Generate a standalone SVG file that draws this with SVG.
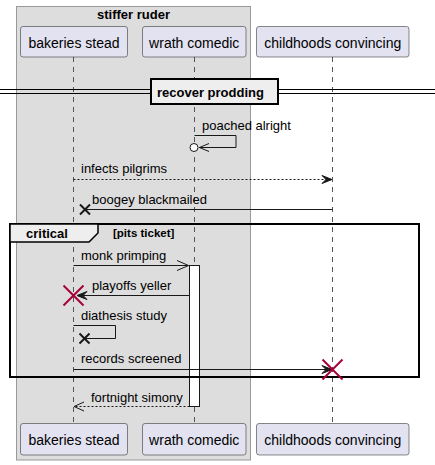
<svg xmlns="http://www.w3.org/2000/svg" width="435" height="465" viewBox="0 0 435 465">
<style>
text{font-family:"Liberation Sans",Arial,sans-serif;fill:#000}
.pt{font-size:14px;text-anchor:middle}
.ml{font-size:13px}
.b{font-weight:bold}
.prect{fill:#E2E2F0;stroke:#181818;stroke-width:0.5}
.life{stroke:#555;stroke-width:1;stroke-dasharray:5,5;fill:none}
.msg{stroke:#181818;stroke-width:1;fill:none}
.dash{stroke-dasharray:2,2}
.ah{fill:#181818;stroke:#181818;stroke-width:1}
.oh{fill:none;stroke:#181818;stroke-width:1}
.x{stroke:#181818;stroke-width:2}
.rx{stroke:#A80036;stroke-width:2}
</style>
<rect id="box" x="16.5" y="6.5" width="234" height="453.5" fill="#DDDDDD" stroke="#999" stroke-width="1"/>
<text class="ml b" x="133.5" y="19" text-anchor="middle">stiffer ruder</text>
<g id="lifelines">
<line class="life" x1="73.5" y1="57" x2="73.5" y2="423"/>
<line class="life" x1="194.5" y1="57" x2="194.5" y2="423"/>
<line class="life" x1="332.5" y1="57" x2="332.5" y2="423"/>
</g>
<g id="p_bakeries">
<rect class="prect" x="20.5" y="26.5" width="107" height="30.5" rx="2.5"/>
<text class="pt" x="74" y="48">bakeries stead</text>
<rect class="prect" x="20.5" y="423.5" width="107" height="31.5" rx="2.5"/>
<text class="pt" x="74" y="445">bakeries stead</text>
</g>
<g id="p_wrath">
<rect class="prect" x="142.5" y="26.5" width="103.5" height="30.5" rx="2.5"/>
<text class="pt" x="194.25" y="48">wrath comedic</text>
<rect class="prect" x="142.5" y="423.5" width="103.5" height="31.5" rx="2.5"/>
<text class="pt" x="194.25" y="445">wrath comedic</text>
</g>
<g id="p_childhoods">
<rect class="prect" x="256.5" y="26.5" width="152.5" height="30.5" rx="2.5"/>
<text class="pt" x="332.75" y="48">childhoods convincing</text>
<rect class="prect" x="256.5" y="423.5" width="152.5" height="31.5" rx="2.5"/>
<text class="pt" x="332.75" y="445">childhoods convincing</text>
</g>
<g id="divider">
<line x1="0" y1="89.5" x2="435" y2="89.5" stroke="#000" stroke-width="1"/>
<line x1="0" y1="93.5" x2="435" y2="93.5" stroke="#000" stroke-width="1"/>
<rect x="151" y="79" width="127" height="25" fill="#EEEEEE" stroke="#000" stroke-width="2"/>
<text class="ml b" x="157" y="97">recover prodding</text>
</g>
<g id="activation">
<rect x="189.5" y="265.5" width="10" height="141" fill="#FFFFFF" stroke="#181818" stroke-width="1"/>
</g>
<g id="critical">
<rect x="10" y="224" width="409" height="153" fill="none" stroke="#000" stroke-width="2"/>
<path d="M10,224 L98,224 L98,233 L89,242 L10,242 Z" fill="#EEEEEE" stroke="#000" stroke-width="1.5"/>
<text class="ml b" x="26" y="238">critical</text>
<text class="b" x="113" y="237" font-size="11.5">[pits ticket]</text>
</g>
<g id="connectors">
<!-- poached alright -->
<polyline class="msg" points="194.5,135.5 236,135.5 236,147.5 199,147.5"/>
<polyline class="oh" points="209,143.5 199.5,147.5 209,151.5" stroke-width="1.5"/>
<circle cx="194" cy="147.5" r="4" fill="#FFFFFF" stroke="#181818" stroke-width="1"/>
<text class="ml" x="202" y="130">poached alright</text>
<!-- infects pilgrims -->
<line class="msg dash" x1="73.5" y1="179.5" x2="330" y2="179.5"/>
<polygon class="ah" points="322,175.5 332,179.5 322,183.5 326,179.5"/>
<text class="ml" x="81" y="173">infects pilgrims</text>
<!-- boogey blackmailed -->
<line class="msg" x1="332.5" y1="209.5" x2="85" y2="209.5"/>
<line class="x" x1="80" y1="204.5" x2="90" y2="214.5"/>
<line class="x" x1="80" y1="214.5" x2="90" y2="204.5"/>
<text class="ml" x="92" y="204">boogey blackmailed</text>
<!-- monk primping -->
<line class="msg" x1="73.5" y1="265.5" x2="188.5" y2="265.5"/>
<polyline class="oh" points="177,260.5 188.5,265.5 177,270.5"/>
<text class="ml" x="81" y="260">monk primping</text>
<!-- playoffs yeller -->
<line class="msg" x1="189.5" y1="295.5" x2="78" y2="295.5"/>
<polygon class="ah" points="87,291.5 77,295.5 87,299.5 83,295.5"/>
<line class="rx" x1="63.5" y1="285.5" x2="83.5" y2="305.5"/>
<line class="rx" x1="63.5" y1="305.5" x2="83.5" y2="285.5"/>
<text class="ml" x="92" y="290">playoffs yeller</text>
<!-- diathesis study -->
<polyline class="msg" points="73.5,325.5 115.5,325.5 115.5,338.5 85,338.5"/>
<line class="x" x1="79.5" y1="333.5" x2="89.5" y2="343.5"/>
<line class="x" x1="79.5" y1="343.5" x2="89.5" y2="333.5"/>
<text class="ml" x="81" y="320">diathesis study</text>
<!-- records screened -->
<line class="msg" x1="73.5" y1="369.5" x2="330" y2="369.5"/>
<polygon class="ah" points="322,365.5 332,369.5 322,373.5 326,369.5"/>
<line class="rx" x1="322.5" y1="359.5" x2="342.5" y2="379.5"/>
<line class="rx" x1="322.5" y1="379.5" x2="342.5" y2="359.5"/>
<text class="ml" x="81" y="363">records screened</text>
<!-- fortnight simony -->
<line class="msg dash" x1="189.5" y1="406.5" x2="74" y2="406.5"/>
<polyline class="oh" points="84,402 74,406.5 84,411"/>
<text class="ml" x="91" y="401.5">fortnight simony</text>
</g>
</svg>
